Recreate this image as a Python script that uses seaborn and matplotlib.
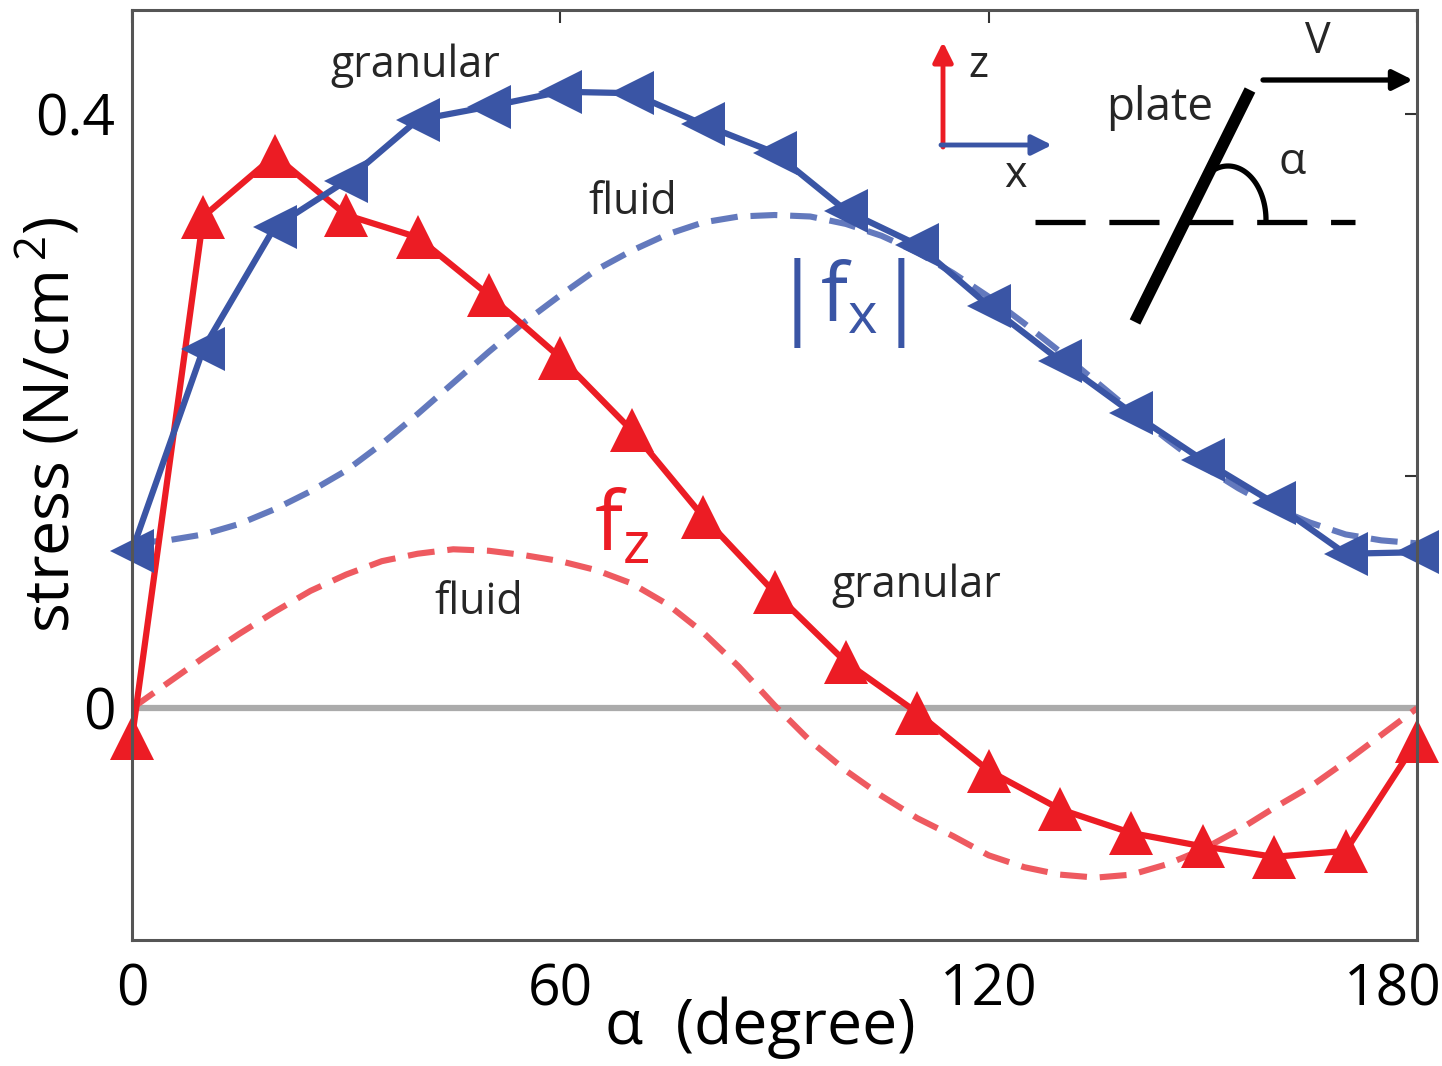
import numpy as np
import pandas as pd
import matplotlib
matplotlib.use("Agg")
import matplotlib.pyplot as plt
import seaborn as sns
from matplotlib.lines import Line2D
from matplotlib.transforms import ScaledTranslation

# ---------------- data ----------------
alpha = [0, 10, 20, 30, 40, 50, 60, 70, 80, 90, 100, 110, 120, 130, 140, 150, 160, 170, 180]
fz_granular = [-0.020, 0.331, 0.372, 0.332, 0.317, 0.278, 0.236, 0.187, 0.129, 0.078,
               0.031, -0.003, -0.042, -0.068, -0.084, -0.093, -0.100, -0.096, -0.022]
fx_granular = [0.106, 0.242, 0.324, 0.355, 0.396, 0.405, 0.415, 0.414, 0.393, 0.374,
               0.335, 0.312, 0.271, 0.234, 0.199, 0.167, 0.138, 0.104, 0.105]

alpha_fluid = [0, 5, 10, 15, 20, 25, 30, 35, 40, 45, 50, 55, 60, 65, 70, 75, 80, 85, 90,
               95, 100, 105, 110, 115, 120, 125, 130, 135, 140, 145, 150, 155, 160, 165,
               170, 175, 180]
fz_fluid = [0.000, 0.017, 0.034, 0.050, 0.065, 0.079, 0.090, 0.099, 0.104, 0.107,
            0.106, 0.103, 0.099, 0.093, 0.084, 0.070, 0.051, 0.028, 0.002,
            -0.022, -0.042, -0.059, -0.074, -0.086, -0.099, -0.107, -0.112, -0.114,
            -0.112, -0.105, -0.095, -0.082, -0.067, -0.053, -0.036, -0.018, 0.000]
fx_fluid = [0.111, 0.113, 0.117, 0.124, 0.134, 0.146, 0.160, 0.178, 0.198, 0.219,
            0.240, 0.260, 0.278, 0.295, 0.308, 0.319, 0.327, 0.331, 0.332,
            0.331, 0.326, 0.318, 0.307, 0.293, 0.277, 0.259, 0.240, 0.220,
            0.200, 0.181, 0.163, 0.148, 0.135, 0.125, 0.117, 0.113, 0.111]

xticks = [0, 60, 120, 180]
xticklabels = ["0", "60", "120", "180"]
yticks = [0, 0.156, 0.4]
yticklabels = ["0", "", "0.4"]

RED = "#EC1C24"
BLUE = "#3A55A5"
RED_D = "#EE5A60"
BLUE_D = "#6379BD"

sns.set_theme(style="white")
plt.rcParams["font.family"] = ["Open Sans", "DejaVu Sans"]
plt.rcParams["mathtext.fontset"] = "custom"
plt.rcParams["mathtext.rm"] = "Open Sans"
plt.rcParams["mathtext.it"] = "Open Sans"
plt.rcParams["mathtext.default"] = "regular"

W, H = 1442, 1066
fig = plt.figure(figsize=(W / 100, H / 100), dpi=100)
ax = fig.add_axes([132 / W, 1 - 940 / H, (1417 - 132) / W, (940 - 10) / H])

df_g = pd.DataFrame({"alpha": alpha, "fz": fz_granular, "fx": fx_granular})
df_f = pd.DataFrame({"alpha": alpha_fluid, "fz": fz_fluid, "fx": fx_fluid})

ax.axhline(0, color="#ABABAB", lw=4.5, zorder=1)

dash = (0, (4.4, 2.1))
sns.lineplot(data=df_f, x="alpha", y="fz", ax=ax, color=RED_D, lw=4.4,
             linestyle=dash, zorder=2)
sns.lineplot(data=df_f, x="alpha", y="fx", ax=ax, color=BLUE_D, lw=4.4,
             linestyle=dash, zorder=2)
sns.lineplot(data=df_g, x="alpha", y="fz", ax=ax, color=RED, lw=4.5,
             marker="^", markersize=31, markeredgewidth=0, zorder=3, clip_on=False)
sns.lineplot(data=df_g, x="alpha", y="fx", ax=ax, color=BLUE, lw=4.5,
             marker="<", markersize=31, markeredgewidth=0, zorder=4, clip_on=False)

ax.set_xlim(0, 180)
ax.set_ylim(-0.156, 0.470)
ax.set_xticks(xticks)
ax.set_xticklabels(xticklabels)
ax.set_yticks(yticks)
ax.set_yticklabels(yticklabels)
ax.tick_params(axis="both", direction="in", length=9, width=1.5, color="#333333",
               top=True, right=True, labelsize=41, labelcolor="black")
ax.tick_params(axis="x", pad=16)
ax.tick_params(axis="y", pad=12)
for s in ax.spines.values():
    s.set_color("#555555")
    s.set_linewidth(2.2)
    s.set_zorder(5)

# shift last x tick label to keep it within the figure
lbl = ax.get_xticklabels()[-1]
lbl.set_transform(lbl.get_transform() + ScaledTranslation(-0.24, 0, fig.dpi_scale_trans))

ax.set_xlabel("α  (degree)", fontsize=45, color="black")
ax.xaxis.set_label_coords((760 - 132) / 1285, (940 - 1028) / 930)
ax.xaxis.label.set_va("center")
ax.set_ylabel("stress (N/cm$^{\\,2}$)", fontsize=45, color="black")
ax.yaxis.set_label_coords((50 - 132) / 1285, (940 - 425) / 930)
ax.yaxis.label.set_va("center")


def F(px, py):
    return (px / W, 1 - py / H)


tf = fig.transFigure

# text annotations
fig.text(*F(415, 66), "granular", fontsize=31, ha="center", va="center", transform=tf)
fig.text(*F(633, 203), "fluid", fontsize=31, ha="center", va="center", transform=tf)
fig.text(*F(479, 603), "fluid", fontsize=31, ha="center", va="center", transform=tf)
fig.text(*F(916, 586), "granular", fontsize=31, ha="center", va="center", transform=tf)
fig.text(*F(622, 530), "f$_{z}$", fontsize=60, color=RED, ha="center",
         va="center", transform=tf)
fig.text(*F(822, 303), "|", fontsize=64, color=BLUE, ha="right", va="center", transform=tf)
fig.text(*F(849, 300), "f$_{x}$", fontsize=58, color=BLUE, ha="center", va="center",
         transform=tf)
fig.text(*F(877, 303), "|", fontsize=64, color=BLUE, ha="left", va="center", transform=tf)

# inset: coordinate arrows
ax.annotate("", xy=F(943, 42), xytext=F(943, 147), xycoords="figure fraction",
            textcoords="figure fraction",
            arrowprops=dict(arrowstyle="-|>", color=RED, lw=3.5, mutation_scale=30,
                            shrinkA=0, shrinkB=0))
ax.annotate("", xy=F(1052, 145), xytext=F(941, 145), xycoords="figure fraction",
            textcoords="figure fraction",
            arrowprops=dict(arrowstyle="-|>", color=BLUE, lw=3.5, mutation_scale=30,
                            shrinkA=0, shrinkB=0))
fig.text(*F(978, 66), "z", fontsize=31, ha="center", va="center", transform=tf)
fig.text(*F(1015, 176), "x", fontsize=31, ha="center", va="center", transform=tf)

# inset: plate sketch
fig.text(*F(1160, 108), "plate", fontsize=33, ha="center", va="center", transform=tf)
p0, p1 = F(1135, 322), F(1250, 90)
fig.add_artist(Line2D([p0[0], p1[0]], [p0[1], p1[1]], color="black", lw=8.5,
                      solid_capstyle="butt", transform=tf))
d0, d1 = F(1035, 222), F(1355, 222)
fig.add_artist(Line2D([d0[0], d1[0]], [d0[1], d1[1]], color="black", lw=3.8,
                      linestyle=(0, (9.5, 4.5)), transform=tf))
th = np.linspace(0, np.deg2rad(112), 40)
arc_x = [(1228 + 38 * np.cos(t)) / W for t in th]
arc_y = [1 - (220 - 54 * np.sin(t)) / H for t in th]
fig.add_artist(Line2D(arc_x, arc_y, color="black", lw=3.8, transform=tf))
fig.text(*F(1292, 163), "α", fontsize=32, ha="center", va="center", transform=tf)
fig.text(*F(1318, 42), "V", fontsize=31, ha="center", va="center", transform=tf)
ax.annotate("", xy=F(1413, 80), xytext=F(1263, 80), xycoords="figure fraction",
            textcoords="figure fraction",
            arrowprops=dict(arrowstyle="-|>", color="black", lw=3.8, mutation_scale=30,
                            shrinkA=0, shrinkB=0))

fig.savefig("out.png", dpi=100)
